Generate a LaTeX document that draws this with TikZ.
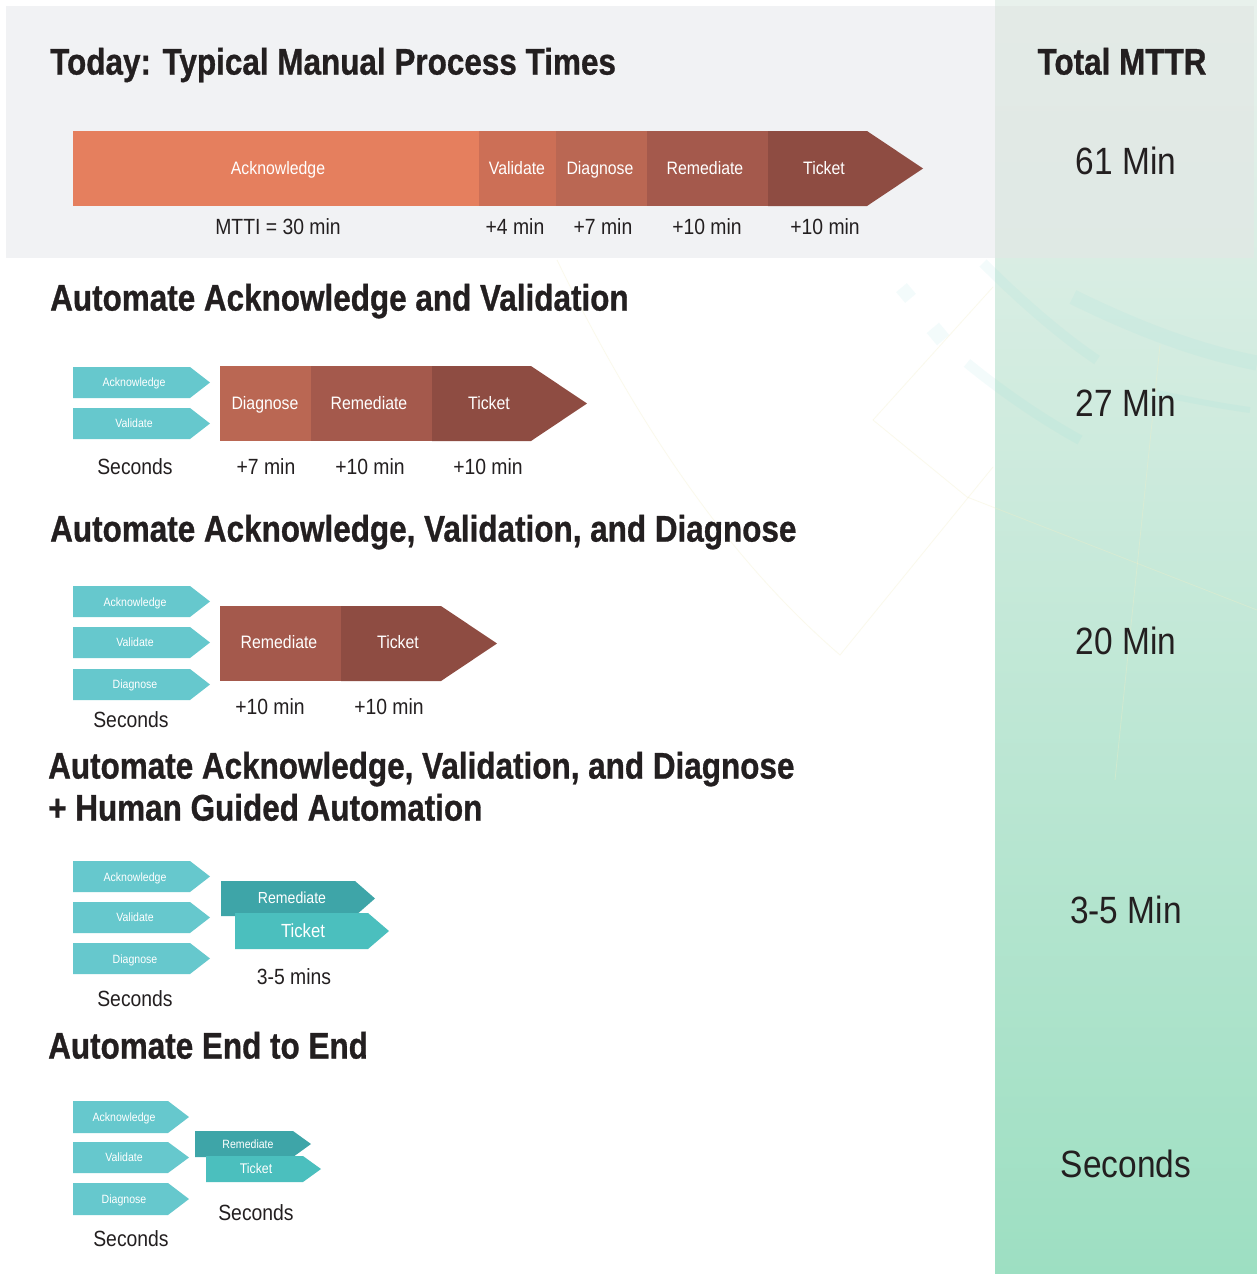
\documentclass[tikz,border=0pt]{standalone}
\usepackage{fontspec}
\setmainfont{Liberation Sans}[FakeStretch=0.88]
\newfontfamily\headfont{Liberation Sans}[FakeStretch=0.85, BoldFeatures={FakeBold=0.8}]

\definecolor{ink}{HTML}{231F20}
\definecolor{panel}{HTML}{F1F2F4}
\definecolor{panelCol}{HTML}{E2E8E5}
\definecolor{colTop}{HTML}{E8F1EC}
\definecolor{colBot}{HTML}{9DDFC2}
\definecolor{cAck}{HTML}{E57F5E}
\definecolor{cVal}{HTML}{CC6F56}
\definecolor{cDiag}{HTML}{BA6753}
\definecolor{cRem}{HTML}{A4594C}
\definecolor{cTick}{HTML}{8E4C42}
\definecolor{tealTag}{HTML}{66C8CD}
\definecolor{tealRem}{HTML}{3EA5A8}
\definecolor{tealTick}{HTML}{4BBFBE}
\definecolor{decoTeal}{HTML}{7FD8DC}
\definecolor{decoLine}{HTML}{F3EFC8}

% pentagon arrow: x-left, x-right, x-tip, y-top, y-bottom, colour
\newcommand\pentarrow[6]{%
  \fill[#6] (#1,#4) -- (#2,#4) -- (#3,{(#4+#5)/2}) -- (#2,#5) -- (#1,#5) -- cycle;}

\begin{document}
\begin{tikzpicture}[x=1pt,y=-1pt,
  fs/.style={font=\fontsize{#1}{#1}\selectfont, text height=0.716\dimexpr #1pt\relax,
             text depth=0pt, inner sep=0pt, yshift={0.16*#1}},
  title/.style={fs=37, font=\headfont\bfseries\fontsize{37}{37}\selectfont, text=ink, anchor=west},
  total/.style={fs=38, text=ink},
  timelbl/.style={fs=22, text=ink},
  barlbl/.style={fs=18, text=white},
  taglbl/.style={fs=12, text=white},
  band/.style={draw=decoTeal, draw opacity=0.09, line width=#1},
  faint/.style={draw=decoLine, draw opacity=0.35, line width=0.8}]

\useasboundingbox (0,0) rectangle (1257,1274);
\fill[white] (0,0) rectangle (1257,1274);

% header panel and MTTR column
\fill[panel] (6,6) rectangle (995,258);
\shade[top color=colTop, bottom color=colBot] (995,0) rectangle (1257,1274);
\fill[panelCol, opacity=0.75] (995,6) rectangle (1254,258);

% faint background ornament
\draw[band=15] (1073,297) .. controls (1140,330) and (1200,352) .. (1257,363);
\draw[band=10] (983,263) .. controls (1020,300) and (1060,335) .. (1097,360);
\draw[band=10] (967,363) .. controls (1000,390) and (1040,418) .. (1080,440);
\draw[band=6] (1157,393) .. controls (1190,400) and (1220,406) .. (1250,410);
\fill[decoTeal, opacity=0.09, rotate around={40:(906,293)}] (899,286) rectangle (913,300);
\fill[decoTeal, opacity=0.09, rotate around={40:(938,334)}] (930,326) rectangle (946,342);
\draw[faint] (873,420) -- (993,287);
\draw[faint] (873,420) -- (967,497) -- (1257,610);
\draw[faint] (557,260) .. controls (640,430) and (730,560) .. (840,655) -- (993,467);
\draw[faint] (1160,345) -- (1115,780);

% ---------- Today ----------
\node[title] (t1) at (50,62) {Today: Typical Manual Process Times};
\node[title, anchor=center] (tmttr) at (1122,62) {Total MTTR};

\fill[cAck] (73,131) rectangle (479,206);
\fill[cVal] (479,131) rectangle (556,206);
\fill[cDiag] (556,131) rectangle (647,206);
\fill[cRem] (647,131) rectangle (768,206);
\pentarrow{768}{867}{923}{131}{206}{cTick}
\node[barlbl] (a1) at (278,168) {Acknowledge};
\node[barlbl] (v1) at (517,168) {Validate};
\node[barlbl] (d1) at (600,168) {Diagnose};
\node[barlbl] (r1) at (705,168) {Remediate};
\node[barlbl] (k1) at (824,168) {Ticket};
\node[timelbl] (ta1) at (278,227) {MTTI = 30 min};
\node[timelbl] (tv1) at (515,227) {+4 min};
\node[timelbl] (td1) at (603,227) {+7 min};
\node[timelbl] (tr1) at (707,227) {+10 min};
\node[timelbl] (tk1) at (825,227) {+10 min};
\node[total] (m1) at (1126,162) {61 Min};

% ---------- Automate Acknowledge and Validation ----------
\node[title] (t2) at (50,298) {Automate Acknowledge and Validation};
\pentarrow{73}{190}{210}{367}{398}{tealTag}
\pentarrow{73}{190}{210}{408}{439}{tealTag}
\node[taglbl] (a2) at (134,382) {Acknowledge};
\node[taglbl] (v2) at (134,423) {Validate};
\fill[cDiag] (220,366) rectangle (311,441);
\fill[cRem] (311,366) rectangle (432,441);
\pentarrow{432}{531}{587}{366}{441}{cTick}
\node[barlbl] (d2) at (265,403) {Diagnose};
\node[barlbl] (r2) at (369,403) {Remediate};
\node[barlbl] (k2) at (489,403) {Ticket};
\node[timelbl] (s2) at (135,467) {Seconds};
\node[timelbl] (td2) at (266,467) {+7 min};
\node[timelbl] (tr2) at (370,467) {+10 min};
\node[timelbl] (tk2) at (488,467) {+10 min};
\node[total] (m2) at (1126,404) {27 Min};

% ---------- Automate Acknowledge, Validation, and Diagnose ----------
\node[title] (t3) at (50,529) {Automate Acknowledge, Validation, and Diagnose};
\pentarrow{73}{190}{210}{586}{617}{tealTag}
\pentarrow{73}{190}{210}{627}{658}{tealTag}
\pentarrow{73}{190}{210}{669}{700}{tealTag}
\node[taglbl] (a3) at (135,602) {Acknowledge};
\node[taglbl] (v3) at (135,642) {Validate};
\node[taglbl] (d3) at (135,684) {Diagnose};
\fill[cRem] (220,606) rectangle (341,681);
\pentarrow{341}{441}{497}{606}{681}{cTick}
\node[barlbl] (r3) at (279,642) {Remediate};
\node[barlbl] (k3) at (398,642) {Ticket};
\node[timelbl] (s3) at (131,720) {Seconds};
\node[timelbl] (tr3) at (270,707) {+10 min};
\node[timelbl] (tk3) at (389,707) {+10 min};
\node[total] (m3) at (1126,642) {20 Min};

% ---------- + Human Guided Automation ----------
\node[title] (t4a) at (48,766) {Automate Acknowledge, Validation, and Diagnose};
\node[title] (t4b) at (48,808) {+ Human Guided Automation};
\pentarrow{73}{190}{210}{861}{892}{tealTag}
\pentarrow{73}{190}{210}{902}{933}{tealTag}
\pentarrow{73}{190}{210}{943}{974}{tealTag}
\node[taglbl] (a4) at (135,877) {Acknowledge};
\node[taglbl] (v4) at (135,917) {Validate};
\node[taglbl] (d4) at (135,959) {Diagnose};
\pentarrow{221}{355}{375}{881}{916}{tealRem}
\pentarrow{235}{368}{389}{913}{949}{tealTick}
\node[fs=16, text=white] (r4) at (292,898) {Remediate};
\node[fs=19, text=white] (k4) at (303,931) {Ticket};
\node[timelbl] (s4) at (135,999) {Seconds};
\node[timelbl] (tr4) at (294,977) {3-5 mins};
\node[total] (m4) at (1126,911) {3-5 Min};

% ---------- Automate End to End ----------
\node[title] (t5) at (48,1046) {Automate End to End};
\pentarrow{73}{168}{189}{1101}{1133}{tealTag}
\pentarrow{73}{168}{189}{1142}{1173}{tealTag}
\pentarrow{73}{168}{189}{1183}{1215}{tealTag}
\node[taglbl] (a5) at (124,1117) {Acknowledge};
\node[taglbl] (v5) at (124,1157) {Validate};
\node[taglbl] (d5) at (124,1199) {Diagnose};
\pentarrow{195}{293}{311}{1131}{1157}{tealRem}
\pentarrow{206}{303}{321}{1156}{1182}{tealTick}
\node[fs=12, text=white] (r5) at (248,1144) {Remediate};
\node[fs=14, text=white] (k5) at (256,1169) {Ticket};
\node[timelbl] (s5b) at (256,1213) {Seconds};
\node[timelbl] (s5) at (131,1239) {Seconds};
\node[total] (m5) at (1126,1165) {Seconds};

\end{tikzpicture}
\end{document}
